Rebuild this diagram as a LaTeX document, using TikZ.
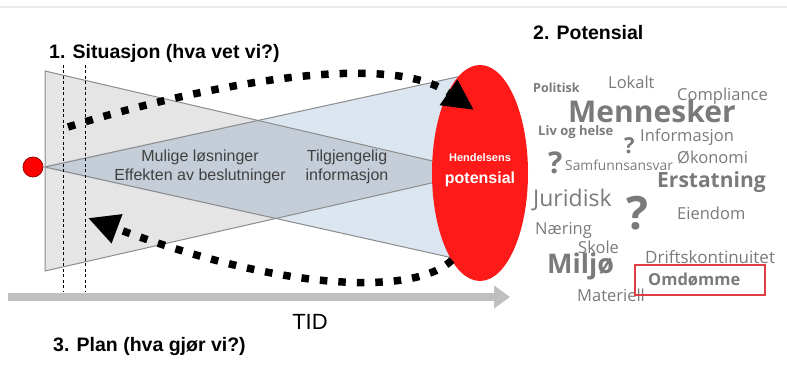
\documentclass[tikz,border=0pt]{standalone}
\usepackage{fontspec}
\setmainfont{Liberation Sans}
\newfontfamily\cloudfont{Open Sans}
\usetikzlibrary{arrows.meta}
\usetikzlibrary{positioning}
\usetikzlibrary{shapes.geometric}
\definecolor{cloudgray}{HTML}{7A7A7A}
\definecolor{midgray}{HTML}{404040}
\definecolor{triblue}{HTML}{DCE6F1}
\definecolor{triedge}{HTML}{8C8C8C}
\definecolor{eventred}{HTML}{FF1A1A}
\definecolor{boxred}{HTML}{E03C46}
\tikzset{heading/.style={font=\fontsize{19.5}{22}\selectfont\bfseries, inner sep=0pt, anchor=west},
  midtext/.style={font=\fontsize{16}{19}\selectfont, text=midgray, align=center, inner sep=0pt},
  word/.style={font=\cloudfont\fontsize{#1}{#1}\selectfont, text=cloudgray, inner sep=0pt, anchor=west},
  bword/.style={font=\cloudfont\bfseries\fontsize{#1}{#1}\selectfont, text=cloudgray, inner sep=0pt, anchor=west},
  dotarrow/.style={line width=7.5pt, dash pattern=on 7.5pt off 11pt, -{Triangle[length=31pt,width=29pt]}}}

\begin{document}
\begin{tikzpicture}[x=1pt, y=-1pt]
\useasboundingbox (0,0) rectangle (787,366);
\draw[line width=1.5pt, black!8] (0,7) -- (787,7);
\fill[triblue] (40,167) -- (480,72) -- (480,264) -- cycle;
\fill[black, fill opacity=0.1] (45,71) -- (480,172) -- (45,271) -- cycle;
\draw[triedge, line width=1pt] (45,167) -- (480,72);
\draw[triedge, line width=1pt] (45,167) -- (480,264);
\draw[triedge, line width=1pt] (480,172) -- (45,71) -- (45,271) -- (480,172);
\coordinate (s1top) at (63,65);
\coordinate (s1bot) at (63,292);
\coordinate (s2top) at (85,65);
\coordinate (s2bot) at (85,292);
\draw[dash pattern=on 3pt off 2.5pt, line width=0.8pt] (s1top) -- (s1bot);
\draw[dash pattern=on 3pt off 2.5pt, line width=0.8pt] (s2top) -- (s2bot);
\coordinate (tidstart) at (8,297);
\coordinate (tidend) at (510,297);
\draw[line width=8pt, black!25, -{Triangle[length=16pt,width=22pt]}] (tidstart) -- (tidend);
\node (start) at (33,167) [circle, fill=red, draw=red!60!black, line width=0.8pt, minimum size=20pt, inner sep=0pt] {};
\node (potensial) at (480,173) [ellipse, fill=eventred, minimum width=96pt, minimum height=216pt, inner sep=0pt] {};
\node (hend) at (480,158) [font=\fontsize{11}{12}\selectfont\bfseries, text=white, inner sep=0pt] {Hendelsens};
\node (pot) at (480,179) [font=\fontsize{16}{18}\selectfont\bfseries, text=white, inner sep=0pt] {potensial};
\node (losn) at (200,167) [midtext] {Mulige løsninger\\Effekten av beslutninger};
\node (info) at (347,167) [midtext] {Tilgjengelig\\informasjon};
\coordinate (upfrom) at (68,127);
\coordinate (upto) at (474,110);
\coordinate (downfrom) at (452,260);
\coordinate (downto) at (88,218);
\draw[dotarrow] (upfrom) .. controls (170,95) and (380,45) .. (upto);
\draw[dotarrow] (downfrom) .. controls (420,292) and (300,297) .. (downto);
\node (sit) at (49,53) [heading] {1. Situasjon (hva vet vi?)};
\node (plan) at (53,347) [heading] {3. Plan (hva gjør vi?)};
\node (tid) at (310,322) [font=\fontsize{22}{24}\selectfont, inner sep=0pt] {TID};
\node (pothead) at (533,33) [heading] {2. Potensial};
\node (politisk) at (533,88) [bword=12.5] {Politisk};
\node (lokalt) at (608,82) [word=16.5] {Lokalt};
\node (compliance) at (677,96) [word=16.5] {Compliance};
\node (mennesker) at (568,111) [bword=30] {Mennesker};
\node (liv) at (538,132) [bword=13] {Liv og helse};
\node (q1) at (624,146) [bword=22] {?};
\node (informasjon) at (640,137) [word=16.5] {Informasjon};
\node (q2) at (548,163) [bword=30] {?};
\node (samfunn) at (565,165) [word=13.8] {Samfunnsansvar};
\node (okonomi) at (677,157) [word=16.5] {Økonomi};
\node (erstatning) at (657,182) [bword=21] {Erstatning};
\node (juridisk) at (533,200) [word=23] {Juridisk};
\node (q3) at (626,213) [bword=46] {?};
\node (eiendom) at (677,213) [word=16.5] {Eiendom};
\node (naering) at (535,230) [word=16.5] {Næring};
\node (skole) at (578,247) [word=16.5] {Skole};
\node (miljo) at (547,266) [bword=27] {Miljø};
\node (drift) at (645,257) [word=17] {Driftskontinuitet};
\node (materiell) at (577,295) [word=16.5] {Materiell};
\node (omdomme) at (648,280) [bword=16.5] {Omdømme};
\draw[boxred, line width=2pt] (635,265) rectangle (765,295);
\end{tikzpicture}
\end{document}
